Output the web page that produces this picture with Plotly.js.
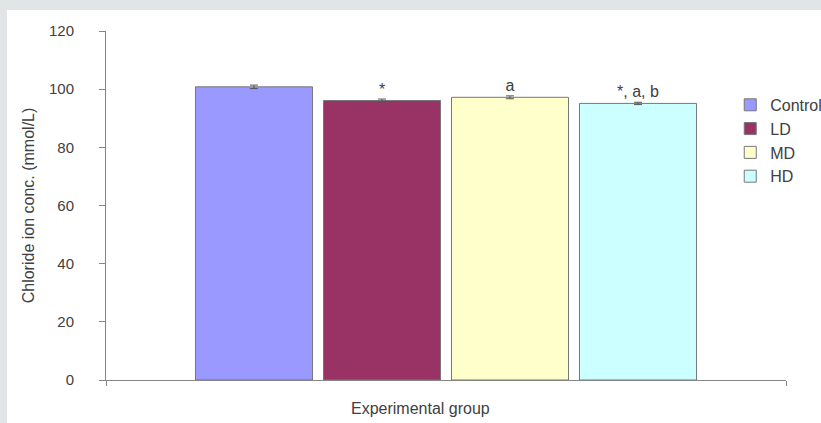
<!DOCTYPE html>
<html>
<head>
<meta charset="utf-8">
<script src="https://cdn.plot.ly/plotly-3.0.1.min.js"></script>
<style>
  html, body { margin: 0; padding: 0; background: #e2e5e6; width: 821px; height: 423px; overflow: hidden; }
  #chart { position: absolute; left: 7px; top: 10px; width: 814px; height: 413px; background: #ffffff; }
</style>
</head>
<body>
<div id="chart"></div>
<script>
// Data
const category = ['Experimental group'];
const groups = ['Control', 'LD', 'MD', 'HD'];
const values = [100.8, 96.1, 97.2, 95.1];
const errors = [0.6, 0.5, 0.5, 0.4];
const sigLabels = ['', '*', 'a', '*, a, b'];
const colors = ['#9999ff', '#993366', '#ffffcc', '#ccffff'];
const yTicks = [0, 20, 40, 60, 80, 100, 120];

const textColor = '#404040';
const axisColor = '#868686';
const fontFamily = 'Liberation Sans, Arial, sans-serif';

const traces = groups.map((g, i) => ({
  type: 'bar',
  name: g,
  x: category,
  y: [values[i]],
  marker: { color: colors[i], line: { color: '#777777', width: 1 } },
  error_y: { type: 'data', array: [errors[i]], visible: true, color: '#555555', thickness: 1, width: 4 },
  text: [sigLabels[i]],
  textposition: 'outside',
  textfont: { family: fontFamily, size: 16, color: textColor },
  constraintext: 'none',
  cliponaxis: false,
  hoverinfo: 'skip'
}));

const layout = {
  width: 814,
  height: 413,
  margin: { l: 99, r: 35, t: 21, b: 43, pad: 0, autoexpand: false },
  paper_bgcolor: '#ffffff',
  plot_bgcolor: '#ffffff',
  font: { family: fontFamily, size: 15, color: textColor },
  barmode: 'group',
  bargap: 0.247,
  bargroupgap: 0.086,
  showlegend: true,
  legend: {
    x: 0.918, y: 0.837, xanchor: 'left', yanchor: 'top',
    font: { family: fontFamily, size: 16, color: textColor },
    bgcolor: 'rgba(0,0,0,0)',
    traceorder: 'normal'
  },
  xaxis: {
    type: 'category',
    range: [-0.5, 0.5],
    showticklabels: false,
    ticks: 'outside',
    tickson: 'boundaries',
    ticklen: 5,
    tickcolor: axisColor,
    showline: true,
    linecolor: axisColor,
    linewidth: 1,
    showgrid: false,
    zeroline: false,
    fixedrange: true
  },
  yaxis: {
    range: [0, 120],
    tickvals: yTicks,
    ticktext: yTicks.map(String),
    ticks: 'outside',
    ticklen: 6,
    tickcolor: axisColor,
    ticklabelstandoff: 22,
    tickfont: { family: fontFamily, size: 15, color: textColor },
    showline: true,
    linecolor: axisColor,
    linewidth: 1,
    showgrid: false,
    zeroline: false,
    title: { text: 'Chloride ion conc. (mmol/L)', font: { family: fontFamily, size: 16, color: textColor }, standoff: 10 },
    fixedrange: true
  },
  annotations: [{
    text: category[0],
    xref: 'paper', yref: 'paper',
    x: 0.462, y: -0.083,
    xanchor: 'center', yanchor: 'middle',
    showarrow: false,
    font: { family: fontFamily, size: 16, color: textColor }
  }]
};

Plotly.newPlot('chart', traces, layout, { displayModeBar: false, staticPlot: true });
</script>
</body>
</html>
